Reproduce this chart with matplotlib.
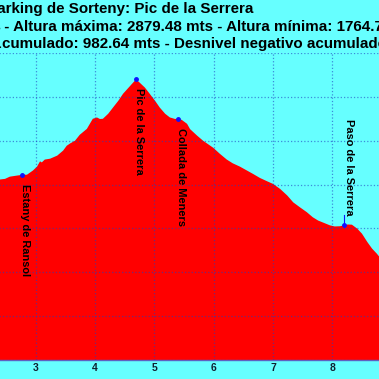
import matplotlib
matplotlib.use('Agg')
import matplotlib.pyplot as plt

# --- data ---
dist_km = [0.0, 0.5, 1.0, 1.5, 2.0, 2.39, 2.48, 2.56, 2.68, 2.76, 2.85, 2.95, 3.02, 3.07,
           3.10, 3.15, 3.24, 3.36, 3.46, 3.52, 3.58, 3.66, 3.74, 3.86, 3.96, 4.03, 4.08,
           4.13, 4.22, 4.30, 4.39, 4.47, 4.55, 4.64, 4.69, 4.75, 4.84, 4.92, 5.01, 5.09,
           5.18, 5.26, 5.35, 5.40, 5.46, 5.55, 5.60, 5.72, 5.82, 5.99, 6.10, 6.22, 6.32,
           6.44, 6.56, 6.66, 6.78, 6.90, 7.00, 7.12, 7.24, 7.34, 7.45, 7.57, 7.67, 7.76,
           7.96, 8.04, 8.13, 8.20, 8.26, 8.33, 8.42, 8.50, 8.59, 8.67, 8.75, 9.0, 9.3,
           9.6, 9.9]
alt_m = [1930, 2010, 2120, 2230, 2350, 2423, 2426, 2436, 2441, 2444, 2445, 2464, 2482, 2506,
         2501, 2514, 2518, 2532, 2555, 2577, 2588, 2600, 2627, 2654, 2700, 2706, 2699,
         2700, 2723, 2751, 2782, 2814, 2838, 2865, 2879.48, 2865, 2842, 2814, 2782, 2751,
         2723, 2706, 2699, 2701, 2695, 2677, 2653, 2623, 2600, 2568, 2541, 2514, 2497,
         2482, 2464, 2449, 2430, 2415, 2403, 2380, 2350, 2319, 2297, 2274, 2251, 2236,
         2214, 2209, 2210, 2214, 2218, 2217, 2199, 2176, 2138, 2108, 2085, 2000, 1900,
         1820, 1764.7]

wp_names = ['Estany de Ransol', 'Pic de la Serrera', 'Collada de Meners', 'Paso de la Serrera']
wp_km = [2.76, 4.69, 5.40, 8.20]
wp_alt = [2444, 2879.48, 2701, 2214]

title1 = 'Parking de Sorteny: Pic de la Serrera'
title2_pre = 'Distancia: 9.90 kms'
title2 = ' - Altura máxima: 2879.48 mts - Altura mínima: 1764.70 mts'
title3_pre = 'Desnivel positivo a'
title3 = 'cumulado: 982.64 mts - Desnivel negativo acumulado: 1147.94 mts'

# --- plot ---
W = H = 379
fig = plt.figure(figsize=(3.79, 3.79), dpi=100)
bg = '#66ffff'
fig.patch.set_facecolor(bg)
plt.rcParams['font.family'] = ['Liberation Sans', 'DejaVu Sans']

# axes runs past the left/right edges of the picture (the reference is a crop)
left_px, right_px, top_px, bot_px = -142, 445, 53, 360
ax = fig.add_axes([left_px / W, (H - bot_px) / H,
                   (right_px - left_px) / W, (bot_px - top_px) / H])
ax.set_facecolor(bg)
ax.set_xlim(0, 9.9)
ax.set_ylim(1600, 3000)

ax.fill_between(dist_km, alt_m, 1600, color='#ff0000', lw=0, zorder=1)
ax.plot(wp_km, wp_alt, 'o', color='#1010ff', ms=2.5, zorder=4)

ax.set_xticks(range(0, 10))
ax.set_yticks(range(1600, 3001, 200))
ax.grid(True, color='#2040c0', ls=':', lw=0.9, alpha=0.6, zorder=3)
ax.set_axisbelow(False)
ax.tick_params(length=0, labelsize=7.5, labelcolor='#102030', pad=2)
for lab in ax.get_xticklabels():
    lab.set_fontweight('bold')
for s in ['top', 'right', 'left']:
    ax.spines[s].set_visible(False)
ax.spines['bottom'].set_color('#6060c0')
ax.spines['bottom'].set_linewidth(1.0)

# waypoint labels, reading top to bottom
for name, x, y in zip(wp_names, wp_km, wp_alt):
    if name == 'Paso de la Serrera':
        ax.plot([x, x], [y, y + 45], color='#1010ff', lw=0.8, zorder=4)
        ax.annotate(name, (x, y), xytext=(5, 10), textcoords='offset pixels',
                    rotation=270, ha='center', va='bottom', fontsize=7.9,
                    fontweight='bold', color='black', zorder=5)
    else:
        ax.annotate(name, (x, y), xytext=(3, -9), textcoords='offset pixels',
                    rotation=270, ha='center', va='top', fontsize=7.9,
                    fontweight='bold', color='black', zorder=5)

# title lines (partly cut off by the crop)
def fx(px):
    return px / W

def fy(py):
    return 1 - py / H

tkw = dict(fontsize=10.9, fontweight='bold', color='black', va='baseline')
fig.text(fx(253), fy(13.5), title1, ha='right', **tkw)
fig.text(fx(0.5), fy(31), title2_pre, ha='right', **tkw)
fig.text(fx(0.5), fy(31), title2, ha='left', **tkw)
fig.text(fx(1.5), fy(48), title3_pre, ha='right', **tkw)
fig.text(fx(1.5), fy(48), title3, ha='left', **tkw)

plt.savefig('out.png', dpi=100, facecolor=bg)
plt.close()
